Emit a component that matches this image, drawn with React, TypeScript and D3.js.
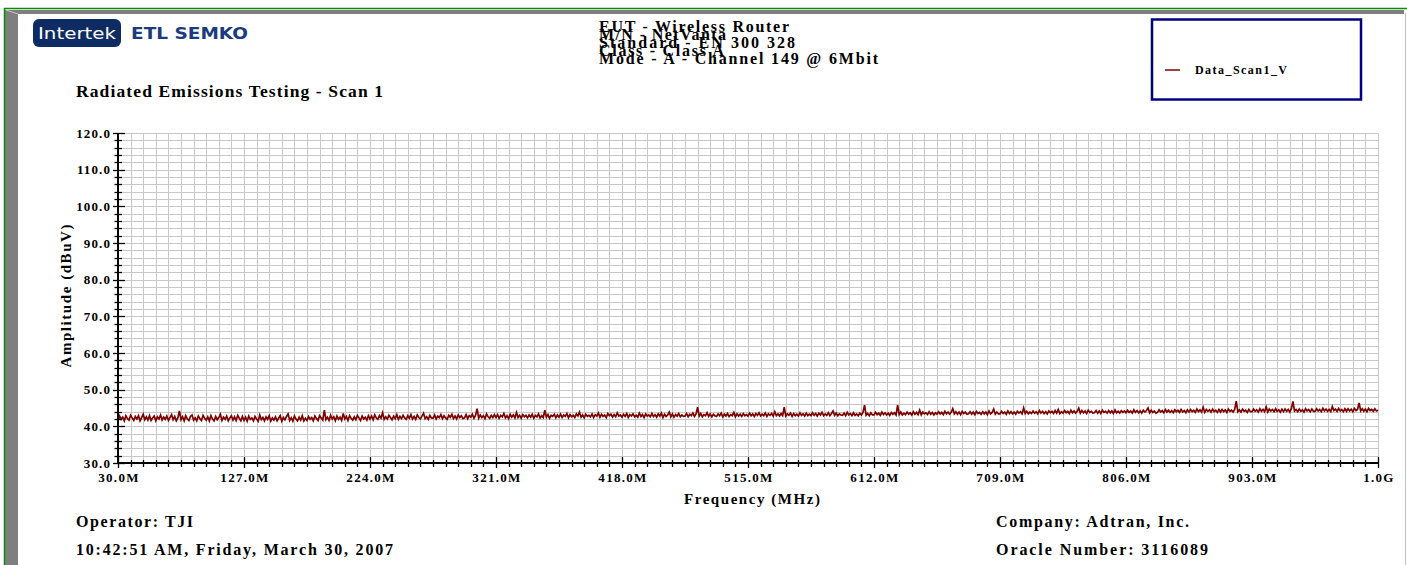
import React from 'react';
import * as d3 from 'd3';

// ---- Data ----
const freqStartMHz = 30;
const freqStepMHz = 1.2125;
const amplitude: number[] = [
  41.6, 42.8, 41.9, 42.5, 41.5, 42.9, 42.1, 41.7, 43.0, 42.3, 41.6, 42.7, 42.0, 42.9, 41.5, 42.4, 43.3, 41.8, 42.6, 41.7,
  42.9, 41.6, 42.3, 42.8, 41.5, 42.6, 42.0, 43.1, 41.7, 42.5, 41.9, 42.8, 41.6, 42.4, 43.2, 41.8, 42.7, 41.5, 42.3, 44.2,
  41.8, 42.6, 41.5, 42.9, 42.0, 41.6, 42.7, 43.1, 41.7, 42.3, 41.5, 42.8, 42.1, 41.6, 43.0, 42.2, 41.7, 42.6, 41.5, 42.9,
  42.0, 41.5, 42.7, 41.8, 42.4, 43.3, 41.6, 42.5, 41.9, 42.8, 41.5, 42.3, 42.9, 41.7, 42.6, 41.6, 43.0, 42.2, 41.5, 42.7,
  41.6, 42.5, 41.4, 42.8, 41.9, 42.3, 41.5, 42.7, 42.0, 41.4, 43.1, 41.8, 42.4, 41.5, 42.6, 41.9, 42.9, 41.4, 42.3, 41.7,
  42.6, 41.5, 42.2, 42.9, 41.4, 42.4, 41.8, 42.7, 43.4, 41.6, 42.3, 41.4, 42.8, 42.0, 41.5, 42.5, 41.7, 42.9, 41.5, 42.2,
  41.6, 42.7, 41.9, 42.4, 41.5, 42.8, 42.1, 41.6, 42.9, 42.3, 41.7, 44.4, 41.8, 42.5, 41.6, 43.0, 42.0, 42.6, 41.5, 42.8,
  41.9, 42.5, 41.6, 43.5, 42.0, 42.7, 41.6, 42.9, 42.2, 41.7, 42.6, 41.8, 43.0, 42.3, 41.6, 42.8, 42.0, 42.5, 41.7, 42.9,
  42.0, 42.8, 41.8, 43.1, 42.3, 41.9, 42.9, 42.2, 43.7, 41.9, 42.6, 42.0, 43.0, 42.4, 41.8, 42.8, 42.1, 43.2, 41.9, 42.7,
  42.1, 43.0, 42.3, 41.9, 42.9, 42.2, 43.2, 42.0, 42.7, 41.9, 43.1, 42.4, 42.0, 42.8, 43.6, 42.1, 42.6, 41.9, 43.0, 42.3,
  42.2, 43.1, 42.0, 42.8, 42.4, 43.2, 42.1, 42.9, 42.3, 41.9, 43.0, 42.5, 43.3, 42.1, 42.8, 42.0, 43.1, 42.4, 42.9, 42.1,
  42.3, 43.2, 42.1, 42.9, 42.5, 43.3, 42.2, 43.0, 44.8, 42.2, 43.1, 42.4, 42.9, 42.1, 43.4, 42.6, 42.2, 43.0, 42.4, 43.2,
  42.4, 43.2, 42.2, 43.0, 42.6, 43.5, 42.3, 42.9, 42.1, 43.3, 42.5, 43.1, 42.3, 43.8, 42.4, 43.0, 42.2, 43.2, 42.6, 43.0,
  42.3, 43.1, 42.5, 43.3, 42.2, 43.0, 42.6, 43.4, 42.3, 42.9, 42.4, 44.4, 42.5, 43.2, 42.2, 43.0, 42.7, 43.3, 42.3, 43.1,
  42.5, 43.3, 42.4, 43.1, 42.7, 43.5, 42.3, 43.2, 42.6, 43.0, 42.4, 43.4, 42.8, 43.9, 42.5, 43.1, 42.3, 43.3, 42.7, 43.0,
  42.6, 43.4, 42.4, 43.2, 42.8, 43.6, 42.5, 43.3, 42.7, 43.1, 42.4, 43.5, 42.9, 43.3, 42.5, 43.2, 42.6, 43.7, 42.8, 43.1,
  42.5, 43.3, 42.7, 43.5, 42.4, 43.2, 42.8, 43.4, 42.6, 43.0, 42.5, 43.6, 42.7, 43.2, 42.4, 43.4, 42.8, 43.1, 42.6, 43.5,
  42.7, 43.2, 42.5, 43.4, 42.8, 43.6, 42.4, 43.3, 42.7, 43.1, 43.9, 42.6, 43.4, 42.5, 43.2, 42.8, 43.5, 42.6, 43.1, 42.7,
  42.8, 43.5, 42.6, 43.3, 42.9, 43.6, 42.7, 43.4, 45.2, 42.8, 43.5, 42.6, 43.2, 42.9, 43.7, 42.7, 43.4, 42.6, 43.3, 42.9,
  42.7, 43.4, 42.9, 43.6, 42.6, 43.3, 42.8, 43.5, 42.7, 43.2, 42.9, 43.8, 42.6, 43.4, 42.8, 43.3, 42.7, 43.5, 42.9, 43.2,
  42.8, 43.6, 42.9, 43.4, 42.7, 43.5, 43.0, 43.7, 42.8, 43.3, 42.9, 43.6, 42.7, 43.4, 43.0, 43.5, 42.8, 44.0, 42.9, 43.4,
  42.8, 43.5, 42.9, 45.2, 42.8, 43.4, 43.0, 43.6, 42.7, 43.5, 42.9, 43.3, 42.8, 43.7, 43.0, 43.4, 42.8, 43.6, 42.9, 43.3,
  42.9, 43.7, 43.0, 43.5, 42.8, 43.6, 43.1, 43.8, 42.9, 43.4, 43.0, 43.7, 42.9, 43.5, 44.2, 43.0, 43.6, 42.9, 43.4, 43.1,
  43.0, 43.6, 42.9, 43.8, 43.1, 43.5, 42.9, 43.7, 43.0, 43.4, 42.9, 43.6, 43.1, 43.8, 45.8, 43.0, 43.5, 42.9, 43.7, 43.1,
  43.1, 43.8, 43.2, 43.6, 43.0, 43.9, 43.2, 43.7, 43.1, 43.6, 43.0, 43.8, 43.3, 43.7, 43.1, 45.8, 43.2, 43.9, 43.1, 43.6,
  43.2, 43.9, 43.3, 43.7, 43.1, 44.0, 43.3, 43.8, 43.2, 44.4, 43.1, 43.9, 43.4, 43.7, 43.2, 44.0, 43.3, 43.8, 43.1, 43.7,
  43.3, 44.0, 43.4, 43.8, 43.2, 44.1, 43.4, 43.9, 43.3, 43.8, 44.8, 43.4, 44.0, 43.3, 43.9, 43.2, 44.1, 43.5, 43.9, 43.3,
  43.4, 44.0, 43.3, 43.9, 43.2, 44.1, 43.5, 43.8, 43.3, 44.0, 43.4, 43.9, 43.2, 44.2, 43.4, 43.8, 44.7, 43.3, 43.9, 43.4,
  43.4, 44.1, 43.5, 43.9, 43.3, 44.2, 43.5, 44.0, 43.4, 43.9, 43.3, 44.1, 43.6, 44.0, 43.4, 45.0, 43.5, 44.1, 43.4, 43.9,
  43.5, 44.2, 43.6, 44.0, 43.4, 44.3, 43.6, 44.1, 43.5, 44.0, 43.4, 44.2, 43.7, 44.1, 43.5, 44.3, 43.6, 44.6, 43.5, 44.0,
  43.6, 44.3, 43.7, 44.1, 43.5, 44.4, 43.7, 44.2, 43.6, 44.1, 45.0, 43.6, 44.3, 43.7, 44.2, 43.5, 44.4, 43.8, 44.1, 43.6,
  43.7, 44.3, 43.6, 44.2, 43.5, 44.4, 43.8, 44.1, 43.6, 44.3, 43.7, 44.2, 43.5, 44.5, 43.7, 44.1, 43.6, 44.3, 43.8, 44.2,
  43.7, 44.4, 43.8, 44.2, 43.6, 44.5, 43.8, 44.3, 43.7, 44.2, 43.6, 44.4, 43.9, 44.3, 45.0, 43.7, 44.4, 43.8, 44.2, 43.6,
  43.8, 44.5, 43.9, 44.3, 43.7, 44.6, 43.9, 44.4, 43.8, 44.3, 43.7, 44.5, 44.0, 44.4, 43.8, 44.6, 43.9, 44.3, 43.7, 44.5,
  43.9, 44.6, 44.0, 44.4, 43.8, 44.7, 44.0, 44.5, 43.9, 45.2, 43.8, 44.6, 44.1, 44.5, 43.9, 44.7, 44.0, 44.4, 43.8, 44.6,
  43.9, 44.6, 44.0, 44.5, 43.8, 44.7, 44.1, 44.4, 43.9, 44.6, 46.9, 44.0, 44.5, 43.9, 44.7, 44.1, 44.4, 43.8, 44.6, 44.0,
  44.0, 44.7, 44.1, 44.5, 43.9, 44.8, 44.1, 44.6, 44.0, 45.3, 43.9, 44.7, 44.2, 44.6, 44.0, 44.8, 44.1, 44.5, 43.9, 44.7,
  44.0, 44.7, 44.1, 44.6, 43.9, 44.8, 46.8, 44.2, 44.6, 44.0, 44.7, 44.1, 44.5, 43.9, 44.8, 44.2, 44.6, 44.0, 44.7, 44.1,
  44.1, 44.8, 44.2, 44.6, 44.0, 44.9, 44.2, 44.7, 44.1, 44.6, 44.0, 45.4, 44.3, 44.7, 44.1, 44.9, 44.2, 44.6, 44.0, 44.8,
  44.1, 44.8, 44.2, 44.7, 44.0, 44.9, 44.3, 44.6, 46.4, 44.2, 44.8, 44.1, 44.7, 44.0, 44.9, 44.3, 44.6, 44.1, 44.8, 44.2,
  44.4,
];

const xTickValues = [30, 127, 224, 321, 418, 515, 612, 709, 806, 903, 1000];
const xTickLabels = ['30.0M', '127.0M', '224.0M', '321.0M', '418.0M', '515.0M', '612.0M', '709.0M', '806.0M', '903.0M', '1.0G'];
const yTickValues = [30, 40, 50, 60, 70, 80, 90, 100, 110, 120];
const yTickLabels = ['30.0', '40.0', '50.0', '60.0', '70.0', '80.0', '90.0', '100.0', '110.0', '120.0'];
const xMinorPerMajor = 10;
const yMinorPerMajor = 5;

const headerLines = [
  'EUT - Wireless Router',
  'M/N - NetVanta',
  'Standard - EN 300 328',
  'Class - Class A',
  'Mode - A - Channel 149 @ 6Mbit',
];
const headerWidths = [190, 127, 196, 125, 279];
const chartTitle = 'Radiated Emissions Testing - Scan 1';
const seriesName = 'Data_Scan1_V';
const xAxisTitle = 'Frequency (MHz)';
const yAxisTitle = 'Amplitude (dBuV)';
const footerLeft = ['Operator: TJI', '10:42:51 AM, Friday, March 30, 2007'];
const footerLeftWidths = [117, 317];
const footerRight = ['Company: Adtran, Inc.', 'Oracle Number: 3116089'];
const footerRightWidths = [193, 212];

const SERIF = '"Liberation Serif", "Times New Roman", serif';
const SANS = '"DejaVu Sans", "Liberation Sans", sans-serif';
const LINE_COLOR = '#800000';

export default function App() {
  const W = 1407, H = 565;
  const x = d3.scaleLinear().domain([30, 1000]).range([118, 1378]);
  const y = d3.scaleLinear().domain([30, 120]).range([463, 133]);

  const xStep = (xTickValues[1] - xTickValues[0]) / xMinorPerMajor;
  const xMinor = d3.range(0, (xTickValues.length - 1) * xMinorPerMajor + 1).map(i => xTickValues[0] + i * xStep);
  const yStep = (yTickValues[1] - yTickValues[0]) / yMinorPerMajor;
  const yMinor = d3.range(0, (yTickValues.length - 1) * yMinorPerMajor + 1).map(i => yTickValues[0] + i * yStep);

  const line = d3.line<number>()
    .x((_, i) => x(freqStartMHz + i * freqStepMHz))
    .y(d => y(d));

  const [x0, x1] = x.range();
  const [y0, y1] = [y(120), y(30)];

  return (
    <svg width={W} height={H} style={{ position: 'absolute', left: 0, top: 0, background: '#fff' }}>
      <rect x={0} y={0} width={W} height={H} fill="#fff" />
      {/* frame */}
      <rect x={5} y={10} width={13} height={H - 10} fill="#7f7f7f" />
      <rect x={5} y={10} width={1399} height={4} fill="#7f7f7f" />
      <line x1={6} y1={10} x2={18} y2={14} stroke="#c8c8c8" strokeWidth={1} />
      <line x1={1405.5} y1={13} x2={1405.5} y2={H} stroke="#c0c0c0" strokeWidth={1} />
      <path d={`M4.5,${H} L4.5,8.5 L${W},8.5`} fill="none" stroke="#0a8a0a" strokeWidth={1.5} />

      {/* logo */}
      <rect x={33} y={19} width={88} height={28} rx={6} fill="#0f2b63" />
      <text x={38} y={38.5} fill="#fff" fontFamily={SANS} fontSize={16} textLength={78} lengthAdjust="spacingAndGlyphs">Intertek</text>
      <text x={131} y={38.5} fill="#1a3b80" fontFamily={SANS} fontSize={16} fontWeight="bold" textLength={117} lengthAdjust="spacingAndGlyphs">ETL SEMKO</text>

      {/* title */}
      <text x={76} y={97} fontFamily={SERIF} fontWeight="bold" fontSize={17.5} textLength={307} lengthAdjust="spacing">{chartTitle}</text>

      {/* header lines */}
      {headerLines.map((t, i) => (
        <text key={t} x={599} y={32 + i * 8} fontFamily={SERIF} fontWeight="bold" fontSize={16} textLength={headerWidths[i]} lengthAdjust="spacing">{t}</text>
      ))}

      {/* legend */}
      <rect x={1152} y={19.5} width={209} height={80} fill="#fff" stroke="#000080" strokeWidth={2.5} />
      <line x1={1165} x2={1180} y1={70} y2={70} stroke={LINE_COLOR} strokeWidth={1.5} />
      <text x={1195} y={74} fontFamily={SERIF} fontWeight="bold" fontSize={12} textLength={92} lengthAdjust="spacing">{seriesName}</text>

      {/* grid */}
      <g stroke="#c8c8c8" strokeWidth={1}>
        {xMinor.map((v, i) => (
          <line key={'gx' + i} x1={Math.round(x(v)) + 0.5} x2={Math.round(x(v)) + 0.5} y1={y0} y2={y1} />
        ))}
        {yMinor.map((v, i) => (
          <line key={'gy' + i} x1={x0} x2={x1} y1={Math.round(y(v)) + 0.5} y2={Math.round(y(v)) + 0.5} />
        ))}
      </g>

      {/* data */}
      <path d={line(amplitude) || ''} fill="none" stroke={LINE_COLOR} strokeWidth={1.7} strokeLinejoin="miter" />

      {/* axes */}
      <g stroke="#000">
        <line x1={x0} x2={x0} y1={y0} y2={y1 + 1} strokeWidth={2} />
        <line x1={x0} x2={x1 + 1} y1={y1} y2={y1} strokeWidth={2} />
        {yMinor.map((v, i) => {
          const major = i % yMinorPerMajor === 0;
          return <line key={'ty' + i} x1={major ? 113 : 114.5} x2={major ? 125 : 122} y1={Math.round(y(v)) + 0.5} y2={Math.round(y(v)) + 0.5} strokeWidth={1.3} />;
        })}
        {xMinor.map((v, i) => {
          const major = i % xMinorPerMajor === 0;
          return <line key={'tx' + i} x1={Math.round(x(v)) + 0.5} x2={Math.round(x(v)) + 0.5} y1={major ? 457 : 460} y2={major ? 468 : 467} strokeWidth={1.3} />;
        })}
      </g>

      {/* tick labels */}
      {yTickValues.map((v, i) => (
        <text key={'yl' + i} x={111} y={y(v) + 4.5} textAnchor="end" fontFamily={SERIF} fontWeight="bold" fontSize={13} letterSpacing={1.1}>{yTickLabels[i]}</text>
      ))}
      {xTickValues.map((v, i) => (
        <text key={'xl' + i} x={x(v) + 1} y={482} textAnchor="middle" fontFamily={SERIF} fontWeight="bold" fontSize={13} letterSpacing={1.3}>{xTickLabels[i]}</text>
      ))}

      {/* axis titles */}
      <text x={752} y={504} textAnchor="middle" fontFamily={SERIF} fontWeight="bold" fontSize={15} textLength={136} lengthAdjust="spacing">{xAxisTitle}</text>
      <text transform="translate(71,296) rotate(-90)" textAnchor="middle" fontFamily={SERIF} fontWeight="bold" fontSize={15} textLength={143} lengthAdjust="spacing">{yAxisTitle}</text>

      {/* footer */}
      {footerLeft.map((t, i) => (
        <text key={t} x={76} y={527 + i * 28} fontFamily={SERIF} fontWeight="bold" fontSize={16} textLength={footerLeftWidths[i]} lengthAdjust="spacing">{t}</text>
      ))}
      {footerRight.map((t, i) => (
        <text key={t} x={996} y={527 + i * 28} fontFamily={SERIF} fontWeight="bold" fontSize={16} textLength={footerRightWidths[i]} lengthAdjust="spacing">{t}</text>
      ))}
    </svg>
  );
}
